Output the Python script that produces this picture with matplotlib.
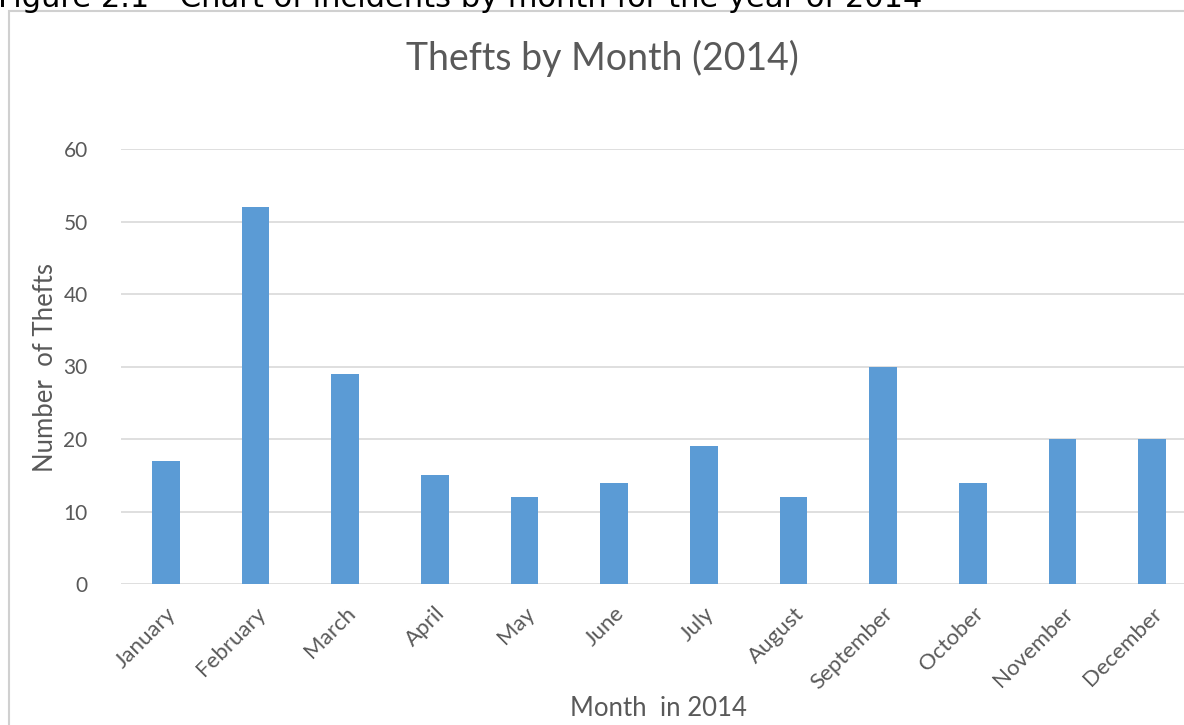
import matplotlib.pyplot as plt
from matplotlib.patches import Rectangle

months = ['January', 'February', 'March', 'April', 'May', 'June', 'July',
          'August', 'September', 'October', 'November', 'December']
thefts = [17, 52, 29, 15, 12, 14, 19, 12, 30, 14, 20, 20]
y_ticks = [0, 10, 20, 30, 40, 50, 60]

text_color = '#595959'
bar_color = '#5B9BD5'
grid_color = '#D9D9D9'

plt.rcParams['font.family'] = ['Lato', 'DejaVu Sans']


def main():
    fig = plt.figure(figsize=(11.84, 7.25), dpi=100)

    # outer chart frame
    fig.patches.append(Rectangle((9 / 1184, -0.01), 1.2, 1 - 10.5 / 725 + 0.01,
                                 transform=fig.transFigure, fill=False,
                                 edgecolor='#D0D0D0', linewidth=1.5))

    # caption above the chart, cut off at the top in the original
    fig.text(-0.002, 1 - 7 / 725, 'Figure 2.1 - Chart of incidents by month for the year of 2014',
             fontsize=22, color='black', ha='left', va='baseline', family='DejaVu Sans')

    ax = fig.add_axes([121 / 1184, 1 - 584 / 725, 1 - 121 / 1184, 435 / 725])
    x = list(range(len(months)))
    ax.bar(x, thefts, width=0.31, color=bar_color, zorder=3)

    ax.set_xlim(-0.5, 11.5 - 13 / 89.6)
    ax.set_ylim(0, 60)
    ax.set_yticks(y_ticks)
    ax.yaxis.grid(True, color=grid_color, linewidth=1.2, zorder=0)
    for s in ax.spines.values():
        s.set_visible(False)
    ax.tick_params(length=0, colors=text_color)
    ax.tick_params(axis='y', pad=24, labelsize=15)
    ax.set_xticks(x)
    ax.set_xticklabels(months, rotation=45, ha='right', rotation_mode='anchor')
    ax.tick_params(axis='x', pad=14, labelsize=16)

    fig.text(602 / 1184, 1 - 58 / 725, 'Thefts by Month (2014)', fontsize=27,
             color=text_color, ha='center', va='center')
    fig.text(46 / 1184, 1 - 368 / 725, 'Number  of Thefts', fontsize=18.5,
             color=text_color, ha='center', va='center', rotation=90)
    fig.text(658 / 1184, 1 - 709 / 725, 'Month  in 2014', fontsize=18.5,
             color=text_color, ha='center', va='center')

    fig.savefig('out.png', dpi=100)


if __name__ == '__main__':
    main()
